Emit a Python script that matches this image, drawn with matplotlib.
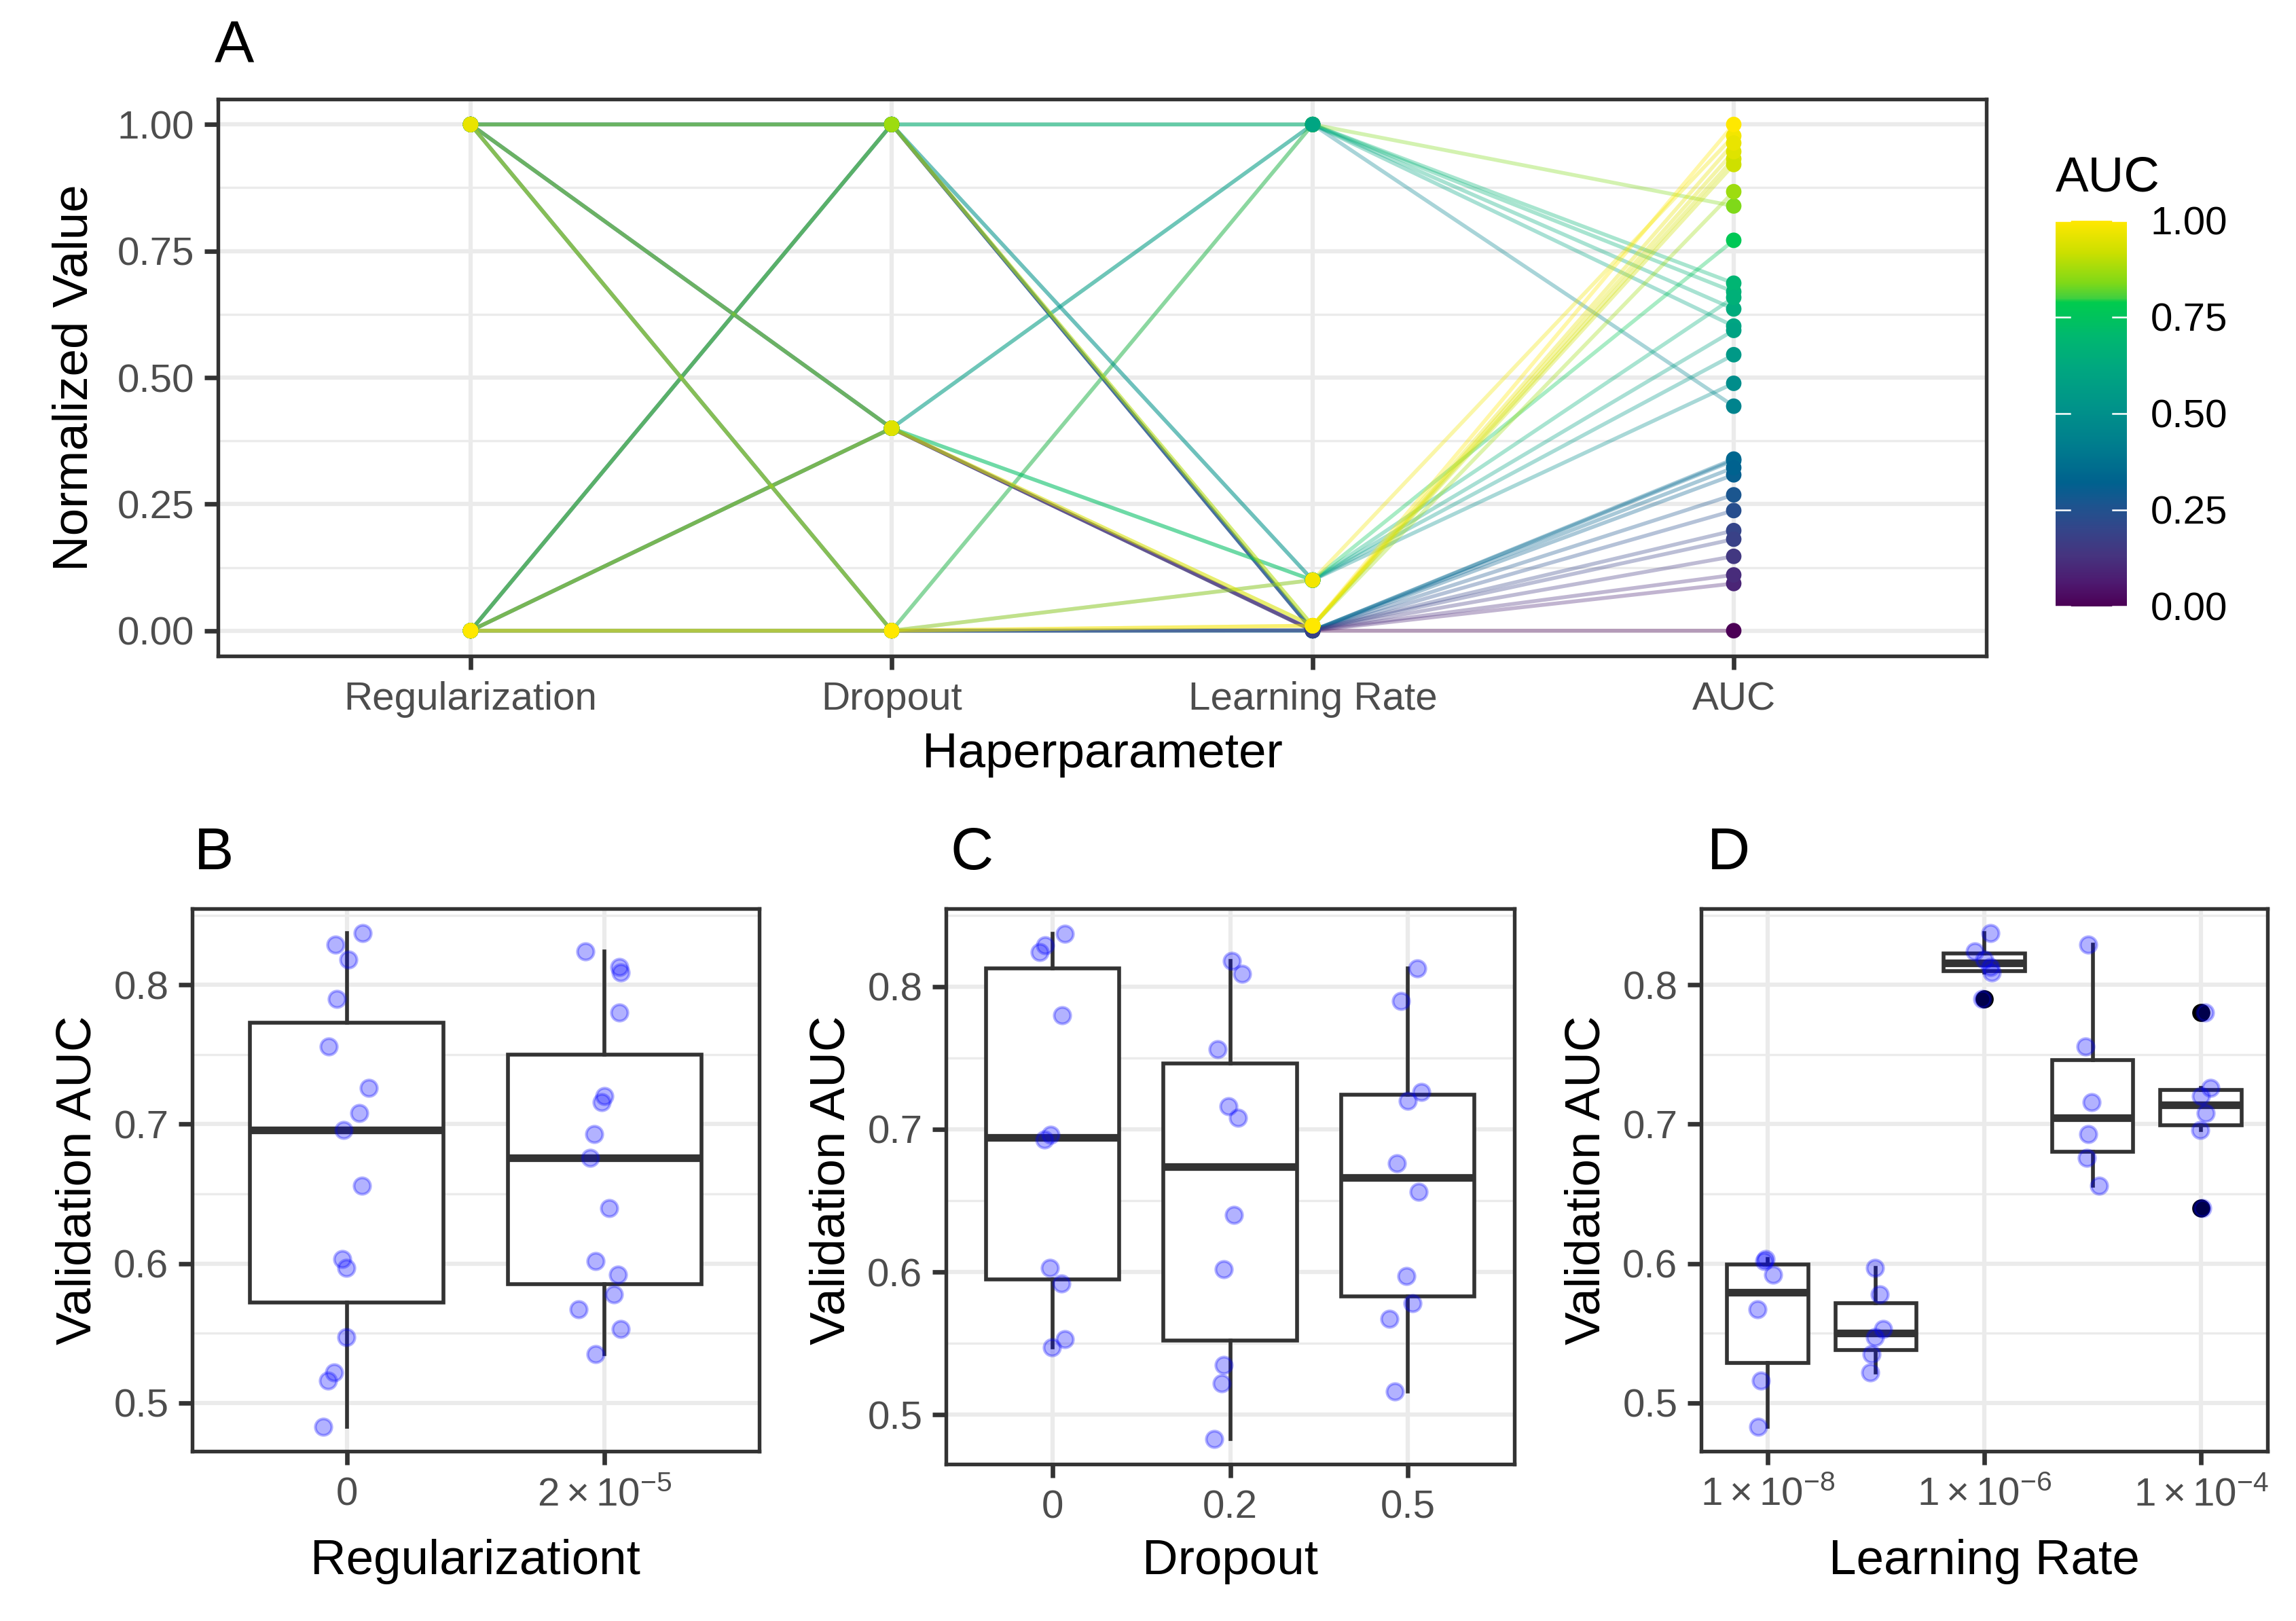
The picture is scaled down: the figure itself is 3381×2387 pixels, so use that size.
import matplotlib
matplotlib.use("Agg")
import matplotlib.pyplot as plt
import numpy as np
from matplotlib.colors import LinearSegmentedColormap
from matplotlib.ticker import FixedLocator

plt.rcParams['font.family'] = ['Liberation Sans', 'DejaVu Sans']
plt.rcParams['mathtext.fontset'] = 'custom'
plt.rcParams['mathtext.rm'] = 'Liberation Sans'
plt.rcParams['mathtext.it'] = 'Liberation Sans:italic'
plt.rcParams['mathtext.bf'] = 'Liberation Sans:bold'
plt.rcParams['mathtext.default'] = 'regular'

# ---- data: 30 runs (run order) ----
lr = [1e-8]*6 + [1e-7]*6 + [1e-4]*6 + [1e-5]*6 + [1e-6]*6
dropout = [0.5, 0.5, 0.2, 0.2, 0.0, 0.0]*5
reg = [2e-5, 0.0]*15
auc = [0.567, 0.516, 0.602, 0.483, 0.592, 0.603,
       0.578, 0.597, 0.535, 0.522, 0.553, 0.547,
       0.720, 0.726, 0.640, 0.708, 0.780, 0.696,
       0.676, 0.656, 0.716, 0.756, 0.693, 0.829,
       0.813, 0.790, 0.809, 0.818, 0.824, 0.837]

# horizontal jitter of the points in panels B, C, D
jit_reg = [-0.100, -0.074, -0.036, -0.092, 0.051, -0.017,
           0.035, -0.003, -0.036, -0.050, 0.063, -0.003,
           0.000, 0.084, 0.018, 0.047, 0.056, -0.012,
           -0.057, 0.059, -0.012, -0.071, -0.041, -0.045,
           0.056, -0.038, 0.063, 0.005, -0.074, 0.062]
jit_drop = [-0.103, -0.072, -0.035, -0.090, 0.050, -0.015,
            0.028, -0.007, -0.035, -0.048, 0.068, -0.004,
            0.000, 0.077, 0.020, 0.044, 0.055, -0.013,
            -0.061, 0.061, -0.011, -0.072, -0.044, -0.042,
            0.053, -0.037, 0.068, 0.009, -0.072, 0.068]
jit_lr = [-0.094, -0.064, -0.030, -0.085, 0.051, -0.017,
          0.034, -0.009, -0.038, -0.051, 0.068, -0.009,
          0.000, 0.085, 0.009, 0.043, 0.038, -0.009,
          -0.056, 0.056, -0.013, -0.068, -0.043, -0.043,
          0.056, -0.021, 0.068, 0.000, -0.085, 0.056]

par_names = ["Regularization", "Dropout", "Learning Rate", "AUC"]
reg_levels = [0.0, 2e-5]
reg_labels = ["0", r"$2\times10^{-5}$"]
drop_levels = [0.0, 0.2, 0.5]
drop_labels = ["0", "0.2", "0.5"]
lr_levels = [1e-8, 1e-7, 1e-6, 1e-5, 1e-4]
lr_ticks = [-8, -6, -4]
lr_labels = [r"$1\times10^{-8}$", r"$1\times10^{-6}$", r"$1\times10^{-4}$"]

# colour scale of the AUC legend
cb_nodes = [(0.00, "#4c0056"), (0.06, "#4e1a70"), (0.13, "#46347f"),
            (0.20, "#34468a"), (0.26, "#1e548f"), (0.32, "#00628f"),
            (0.42, "#007e8e"), (0.52, "#00948a"), (0.62, "#00a880"),
            (0.70, "#00b870"), (0.79, "#00cc4e"), (0.80, "#40d040"),
            (0.84, "#80d918"), (0.92, "#cde000"), (1.00, "#ffe800")]
cmap = LinearSegmentedColormap.from_list("auc", cb_nodes)

W, H, DPI = 3381, 2387, 300
GRID = "#EBEBEB"
DARK = "#333333"
TXT = "#4D4D4D"
TICK_FS = 14
TITLE_FS = 17.5
TAG_FS = 21
BOX_LW = 1.35

fig = plt.figure(figsize=(W/DPI, H/DPI), dpi=DPI)


def box(l, t, r, b):
    return [l/W, 1 - b/H, (r - l)/W, (b - t)/H]


def px(x, y):
    return x/W, 1 - y/H


def style(ax):
    for s in ax.spines.values():
        s.set_color(DARK)
        s.set_linewidth(1.3)
    ax.tick_params(which='major', length=4.7, width=1.6, color=DARK,
                   labelsize=TICK_FS, labelcolor=TXT)
    ax.tick_params(axis='x', pad=4.2)
    ax.tick_params(axis='y', pad=3.6)
    ax.tick_params(which='minor', length=0)
    ax.set_axisbelow(True)
    ax.grid(which='major', color=GRID, lw=1.5)


# ---------------- panel A: parallel coordinates ----------------
cols = np.array([reg, dropout, lr, auc], dtype=float)
norm = (cols - cols.min(axis=1, keepdims=True)) / np.ptp(cols, axis=1, keepdims=True)
auc_n = norm[3]

axA = fig.add_axes(box(321, 146, 2925, 966))
style(axA)
axA.yaxis.set_minor_locator(FixedLocator([0.125, 0.375, 0.625, 0.875]))
axA.grid(which='minor', axis='y', color=GRID, lw=0.8)
xs = np.arange(1, 5)
for i in range(len(auc)):
    axA.plot(xs, norm[:, i], color=cmap(auc_n[i]), alpha=0.34, lw=1.35,
             zorder=2, solid_capstyle='butt')
for j in range(4):
    axA.scatter(np.full(len(auc), xs[j]), norm[j], c=[cmap(v) for v in auc_n],
                s=30, linewidths=0, zorder=3)
axA.set_xlim(0.4, 4.6)
axA.set_ylim(-0.05, 1.05)
axA.set_xticks(xs)
axA.set_xticklabels(par_names)
axA.set_yticks([0, 0.25, 0.5, 0.75, 1.0])
axA.set_yticklabels(["0.00", "0.25", "0.50", "0.75", "1.00"])

fig.text(*px(110, 556), "Normalized Value", rotation=90, ha='center', va='center',
         fontsize=TITLE_FS)
fig.text(*px(1623, 1130), "Haperparameter", ha='center', va='baseline', fontsize=TITLE_FS)
fig.text(*px(316, 92), "A", ha='left', va='baseline', fontsize=TAG_FS)

# colour bar
axC = fig.add_axes(box(3027, 325, 3132, 893))
grad = np.linspace(0, 1, 512).reshape(-1, 1)
axC.imshow(grad, aspect='auto', cmap=cmap, origin='lower', extent=[0, 1, 0, 1])
for v in [0, 0.25, 0.5, 0.75, 1.0]:
    axC.plot([0, 0.2], [v, v], color='white', lw=0.6)
    axC.plot([0.8, 1.0], [v, v], color='white', lw=0.6)
axC.set_xlim(0, 1)
axC.set_ylim(0, 1)
for s in axC.spines.values():
    s.set_visible(False)
axC.set_xticks([])
axC.yaxis.tick_right()
axC.set_yticks([0, 0.25, 0.5, 0.75, 1.0])
axC.set_yticklabels(["0.00", "0.25", "0.50", "0.75", "1.00"])
axC.tick_params(axis='y', length=0, pad=8.4, labelsize=TICK_FS, labelcolor='black')
fig.text(*px(3027, 282), "AUC", ha='left', va='baseline', fontsize=TITLE_FS)

# ---------------- panels B, C, D: boxplots ----------------
auc_arr = np.array(auc)
rng = auc_arr.max() - auc_arr.min()
ylo, yhi = auc_arr.min() - 0.05*rng, auc_arr.max() + 0.05*rng


def boxpanel(rect, keys, levels, positions, jitter, width):
    ax = fig.add_axes(rect)
    style(ax)
    ax.yaxis.set_minor_locator(FixedLocator([0.45, 0.55, 0.65, 0.75, 0.85]))
    ax.grid(which='minor', axis='y', color=GRID, lw=0.8)
    groups = [[a for a, k in zip(auc, keys) if k == lv] for lv in levels]
    ax.boxplot(groups, positions=positions, widths=width, whis=1.5,
               patch_artist=True, showcaps=False, manage_ticks=False,
               boxprops=dict(facecolor='white', edgecolor=DARK, linewidth=BOX_LW),
               whiskerprops=dict(color=DARK, linewidth=BOX_LW),
               medianprops=dict(color=DARK, linewidth=2*BOX_LW, solid_capstyle='butt'),
               flierprops=dict(marker='o', markerfacecolor='black',
                               markeredgecolor='black', markersize=5.4),
               zorder=2)
    pos_of = dict(zip(levels, positions))
    xj = [pos_of[k] + j for k, j in zip(keys, jitter)]
    ax.plot(xj, auc, 'o', color='blue', alpha=0.3, ms=5.8, mew=1.0, zorder=4)
    ax.set_ylim(ylo, yhi)
    ax.set_yticks([0.5, 0.6, 0.7, 0.8])
    ax.set_yticklabels(["0.5", "0.6", "0.7", "0.8"])
    return ax


axB = boxpanel(box(283, 1338, 1118, 2137), reg, reg_levels, [1, 2], jit_reg, 0.75)
axB.set_xlim(0.4, 2.6)
axB.set_xticks([1, 2])
axB.set_xticklabels(reg_labels)

axD2 = boxpanel(box(1393, 1338, 2230, 2156), dropout, drop_levels, [1, 2, 3], jit_drop, 0.75)
axD2.set_xlim(0.4, 3.6)
axD2.set_xticks([1, 2, 3])
axD2.set_xticklabels(drop_labels)

lr_log = [float(np.log10(v)) for v in lr_levels]
lr_keys = [float(np.log10(v)) for v in lr]
axL = boxpanel(box(2505, 1338, 3339, 2137), lr_keys, lr_log, lr_log, jit_lr, 0.75)
axL.set_xlim(-8.6125, -3.3875)
axL.set_xticks(lr_ticks)
axL.set_xticklabels(lr_labels)

for cx, lab in [(700, "Regularizationt"), (1811, "Dropout"), (2922, "Learning Rate")]:
    fig.text(*px(cx, 2318), lab, ha='center', va='baseline', fontsize=TITLE_FS)
for cx in [115, 1225, 2337]:
    fig.text(*px(cx, 1738), "Validation AUC", rotation=90, ha='center', va='center',
             fontsize=TITLE_FS)
for x0, tag in [(286, "B"), (1400, "C"), (2514, "D")]:
    fig.text(*px(x0, 1280), tag, ha='left', va='baseline', fontsize=TAG_FS)

fig.savefig("out.png", dpi=DPI)
